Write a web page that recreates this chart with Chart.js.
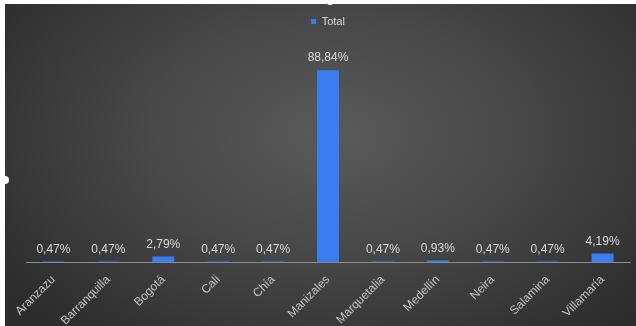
<!DOCTYPE html>
<html>
<head>
<meta charset="utf-8">
<script src="https://cdn.jsdelivr.net/npm/chart.js@4.4.1/dist/chart.umd.min.js"></script>
<style>
  html, body { margin: 0; padding: 0; background: #fff; overflow: hidden; }
  #wrap {
    position: absolute; left: 5px; top: 4px; width: 631px; height: 326px;
    background: radial-gradient(ellipse 65% 80% at 52% 40%, #5a5a5a 0%, #484848 45%, #2c2c2c 100%);
  }
  .handle { position: absolute; width: 8px; height: 8px; border-radius: 50%; background: #fff; }
</style>
</head>
<body>
<div id="wrap"><canvas id="grafico"></canvas></div>
<div class="handle" style="left:1px; top:176px;"></div>
<div class="handle" style="left:326px; top:-3px;"></div>
<script>
const ciudades = ['Aranzazu', 'Barranquilla', 'Bogotá', 'Cali', 'Chía', 'Manizales',
  'Marquetalia', 'Medellín', 'Neira', 'Salamina', 'Villamaría'];
const totales = [0.47, 0.47, 2.79, 0.47, 0.47, 88.84, 0.47, 0.93, 0.47, 0.47, 4.19];

const fuente = '"Liberation Sans", Arial, sans-serif';

// espacio extra entre la leyenda y las barras
const margenLeyenda = {
  id: 'margenLeyenda',
  beforeInit(chart) {
    const fitOriginal = chart.legend.fit;
    chart.legend.fit = function () {
      fitOriginal.bind(chart.legend)();
      this.height += 9;
    };
  }
};

// etiquetas de porcentaje encima de cada barra
const etiquetas = {
  id: 'etiquetas',
  afterDatasetsDraw(chart) {
    const ctx = chart.ctx;
    const meta = chart.getDatasetMeta(0);
    ctx.save();
    ctx.font = '12px ' + fuente;
    ctx.fillStyle = '#d9d9d9';
    ctx.textAlign = 'center';
    ctx.textBaseline = 'bottom';
    meta.data.forEach((bar, i) => {
      const txt = totales[i].toFixed(2).replace('.', ',') + '%';
      ctx.fillText(txt, bar.x, bar.y - 6);
    });
    ctx.restore();
  }
};

new Chart(document.getElementById('grafico'), {
  type: 'bar',
  data: {
    labels: ciudades,
    datasets: [{
      label: 'Total',
      data: totales,
      backgroundColor: '#3b7cf0',
      barPercentage: 0.4,
      categoryPercentage: 1
    }]
  },
  options: {
    responsive: true,
    maintainAspectRatio: false,
    animation: false,
    layout: { padding: { left: 21, right: 6, top: 0, bottom: 0 } },
    plugins: {
      legend: {
        position: 'top',
        labels: {
          color: '#d9d9d9',
          font: { size: 11, family: fuente },
          boxWidth: 5, boxHeight: 5, padding: 12
        }
      },
      tooltip: { enabled: false }
    },
    scales: {
      x: {
        grid: { display: false },
        border: { display: true, color: '#8c8c8c', width: 1 },
        ticks: {
          color: '#c4c4c4',
          font: { size: 12, family: fuente },
          minRotation: 45, maxRotation: 45, padding: 2
        }
      },
      y: { display: false, min: 0, max: 100 }
    }
  },
  plugins: [margenLeyenda, etiquetas]
});
</script>
</body>
</html>
